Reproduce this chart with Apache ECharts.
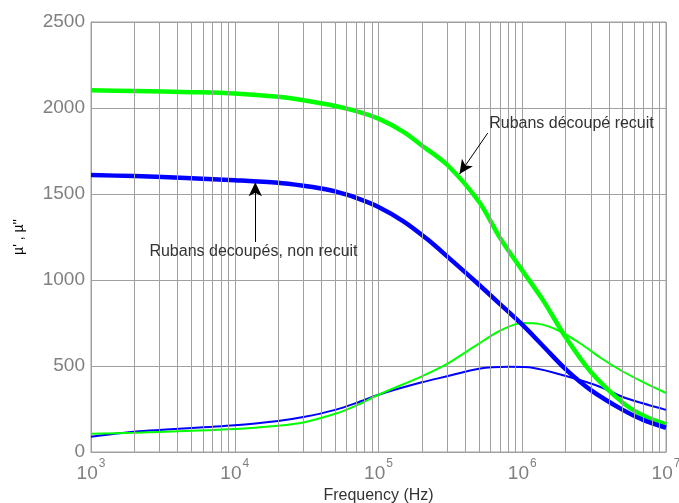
<!DOCTYPE html>
<html>
<head>
<meta charset="utf-8">
<script src="https://cdn.jsdelivr.net/npm/echarts@6/dist/echarts.min.js"></script>
<style>html,body{margin:0;padding:0;background:#fff;}#c{width:679px;height:503px;}</style>
</head>
<body>
<div id="c"></div>
<script>
// ---- data ----
const muRealAnnealedF = [1e3, 2e3, 5e3, 1e4, 2e4, 3e4, 5e4, 7e4, 1e5, 1.5e5, 2e5, 3e5, 5e5, 7e5, 1e6, 1.4e6, 2e6, 3e6, 5e6, 7e6, 1e7];
const muRealAnnealed  = [2103, 2099, 2092, 2084, 2065, 2045, 2012, 1982, 1938, 1860, 1782, 1670, 1455, 1245, 1055, 880, 668, 465, 287, 210, 160];

const muRealRawF = [1e3, 2e3, 5e3, 1e4, 2e4, 3e4, 4e4, 5e4, 7e4, 1e5, 1.5e5, 2.2e5, 3.2e5, 4.6e5, 7e5, 1e6, 1.4e6, 2e6, 3e6, 5e6, 7e6, 1e7];
const muRealRaw  = [1610, 1604, 1592, 1580, 1565, 1548, 1532, 1515, 1478, 1425, 1340, 1235, 1117, 1000, 860, 740, 615, 482, 360, 245, 185, 141];

const muImagAnnealedF = [1e3, 2e3, 1e4, 2e4, 3e4, 5e4, 7e4, 1e5, 2e5, 3e5, 4.6e5, 7e5, 1e6, 1.3e6, 1.8e6, 2.6e6, 3.5e6, 5e6, 7e6, 1e7];
const muImagAnnealed  = [106, 112, 134, 153, 172, 222, 270, 333, 440, 512, 611, 705, 750, 745, 705, 625, 548, 468, 405, 343];

const muImagRawF = [1e3, 2e3, 1e4, 2e4, 3e4, 5e4, 7e4, 1e5, 2e5, 3e5, 5e5, 8e5, 1.2e6, 2.1e6, 3.5e6, 5e6, 1e7];
const muImagRaw  = [89, 118, 155, 180, 203, 245, 285, 333, 405, 440, 484, 495, 489, 437, 378, 320, 245];

const xTickExponents = [3, 4, 5, 6, 7];
const yTickValues = [0, 500, 1000, 1500, 2000, 2500];
const minorMultipliers = [2, 3, 4, 5, 6, 7, 8, 9];

const label1 = 'Rubans découpé recuit';
const label1Pos = [2.2e6, 1912];
const arrow1 = [[5.75e5, 1854], [3.66e5, 1616]];
const label2 = 'Rubans decoupés, non recuit';
const label2Pos = [1.35e4, 1163];
const arrow2 = [[1.39e4, 1221], [1.39e4, 1569]];

// ---- build ----
function pairs(xs, ys) { return xs.map((x, i) => [x, ys[i]]); }
const minorLines = [];
for (let e = xTickExponents[0]; e < xTickExponents[xTickExponents.length - 1]; e++) {
  minorMultipliers.forEach(m => minorLines.push({ xAxis: m * Math.pow(10, e) }));
}
const GRID = '#a0a0a0';

const chart = echarts.init(document.getElementById('c'), null, { renderer: 'canvas' });
chart.setOption({
  animation: false,
  backgroundColor: '#fff',
  grid: { left: 91, right: 13, top: 22, bottom: 51, show: true, borderColor: GRID, borderWidth: 1,
          containLabel: false, outerBoundsMode: 'none' },
  xAxis: {
    type: 'log', logBase: 10, min: 1e3, max: 1e7,
    name: 'Frequency (Hz)', nameLocation: 'middle', nameGap: 33,
    nameTextStyle: { fontFamily: 'Liberation Sans', fontSize: 16, color: '#333' },
    axisLine: { show: true, lineStyle: { color: GRID } },
    axisTick: { show: false },
    splitLine: { show: true, lineStyle: { color: GRID, width: 1 } },
    axisLabel: {
      margin: 12,
      formatter: v => '{b|10}{s|' + Math.round(Math.log10(v)) + '}',
      rich: {
        b: { fontFamily: 'Liberation Sans', fontSize: 19, color: '#808080', lineHeight: 19, verticalAlign: 'bottom' },
        s: { fontFamily: 'Liberation Sans', fontSize: 12, color: '#808080', lineHeight: 12, verticalAlign: 'bottom', padding: [0, 0, 13, 1] }
      }
    }
  },
  yAxis: {
    type: 'value', min: 0, max: 2500, interval: 500,
    name: "µ' , µ''", nameLocation: 'middle', nameGap: 65, nameRotate: 90,
    nameTextStyle: { fontFamily: 'Liberation Sans', fontSize: 14, color: '#000' },
    axisLine: { show: true, lineStyle: { color: GRID } },
    axisTick: { show: false },
    splitLine: { show: true, lineStyle: { color: GRID, width: 1 } },
    axisLabel: { margin: 6, fontFamily: 'Liberation Sans', fontSize: 19, color: '#808080',
      formatter: v => yTickValues.indexOf(v) >= 0 ? String(v) : '' }
  },
  series: [
    {
      name: 'minor', type: 'line', data: [], silent: true,
      markLine: { silent: true, symbol: 'none', animation: false, label: { show: false },
        lineStyle: { color: GRID, width: 1, type: 'solid' }, data: minorLines }
    },
    {
      name: "µ'' non recuit", type: 'line', data: pairs(muImagRawF, muImagRaw), smooth: 0.3, showSymbol: false,
      lineStyle: { color: '#0000ff', width: 2 }, itemStyle: { color: '#0000ff' }
    },
    {
      name: "µ'' recuit", type: 'line', data: pairs(muImagAnnealedF, muImagAnnealed), smooth: 0.3, showSymbol: false,
      lineStyle: { color: '#00ff00', width: 2 }, itemStyle: { color: '#00ff00' }
    },
    {
      name: "µ' recuit", type: 'line', data: pairs(muRealAnnealedF, muRealAnnealed), smooth: 0.3, showSymbol: false,
      lineStyle: { color: '#00ff00', width: 4.5 }, itemStyle: { color: '#00ff00' }
    },
    {
      name: "µ' non recuit", type: 'line', data: pairs(muRealRawF, muRealRaw), smooth: 0.3, showSymbol: false,
      lineStyle: { color: '#0000ff', width: 4.5 }, itemStyle: { color: '#0000ff' },
      markLine: {
        silent: true, animation: false, symbol: ['none', 'arrow'], symbolSize: [10, 14],
        label: { show: false }, lineStyle: { color: '#000', width: 1, type: 'solid' },
        data: [
          [{ coord: arrow1[0] }, { coord: arrow1[1] }],
          [{ coord: arrow2[0] }, { coord: arrow2[1] }]
        ]
      },
      markPoint: {
        silent: true, animation: false, symbol: 'circle', symbolSize: 0,
        label: { show: true, position: 'inside', fontFamily: 'Liberation Sans', fontSize: 16, color: '#333', formatter: p => p.name },
        data: [
          { name: label1, coord: label1Pos },
          { name: label2, coord: label2Pos }
        ]
      }
    }
  ]
});
</script>
</body>
</html>
